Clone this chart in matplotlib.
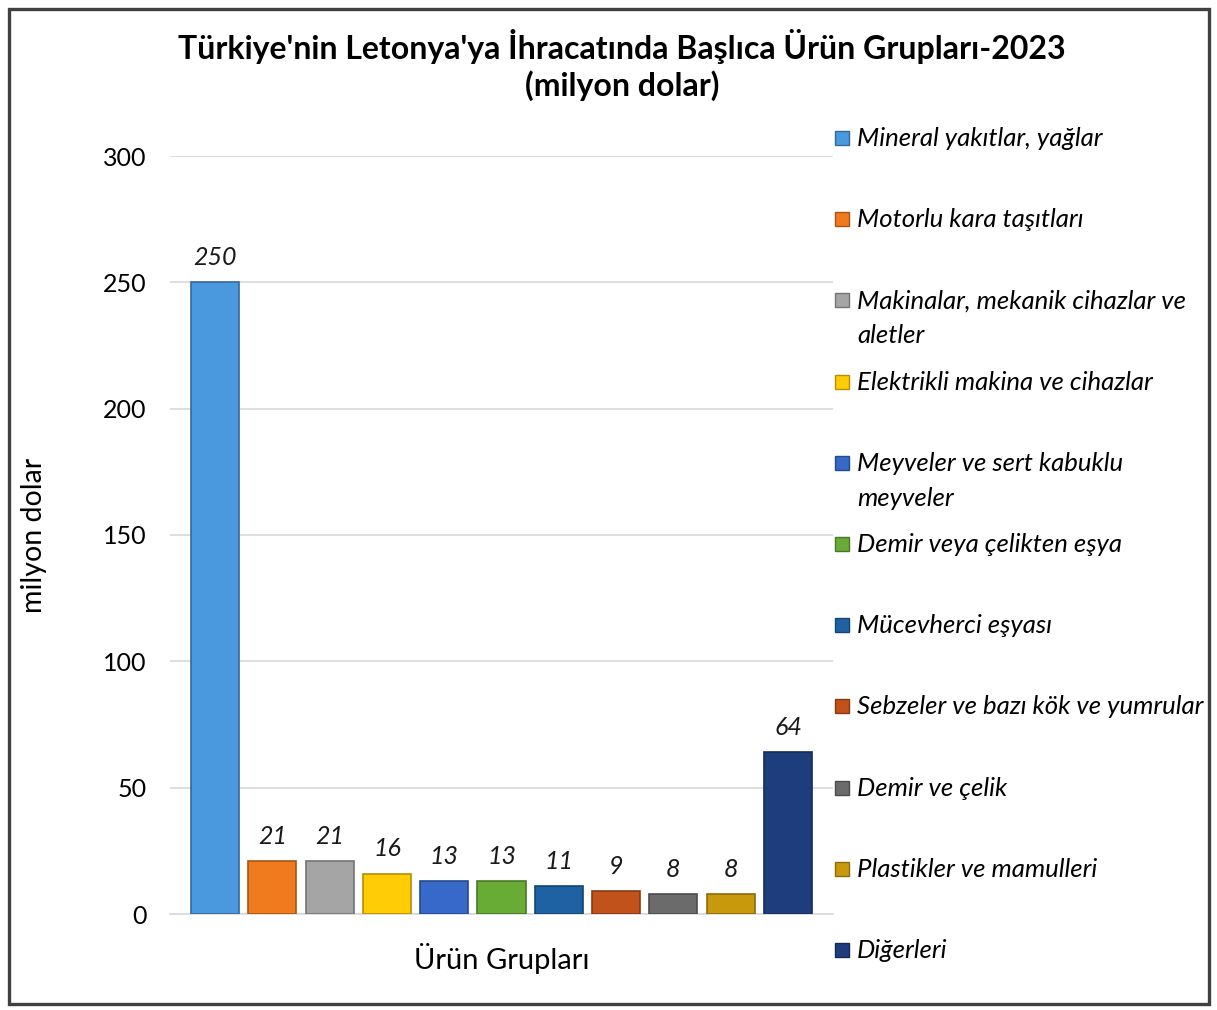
import matplotlib.pyplot as plt
from matplotlib.patches import Rectangle
import matplotlib.colors as mcolors

plt.rcParams['font.family'] = ['Lato', 'DejaVu Sans']

# Data
groups = ['Mineral yakıtlar, yağlar',
          'Motorlu kara taşıtları',
          'Makinalar, mekanik cihazlar ve\naletler',
          'Elektrikli makina ve cihazlar',
          'Meyveler ve sert kabuklu\nmeyveler',
          'Demir veya çelikten eşya',
          'Mücevherci eşyası',
          'Sebzeler ve bazı kök ve yumrular',
          'Demir ve çelik',
          'Plastikler ve mamulleri',
          'Diğerleri']
values = [250, 21, 21, 16, 13, 13, 11, 9, 8, 8, 64]
colors = ['#4A98DE', '#F07A1E', '#A5A5A5', '#FFCC05', '#3669C9', '#68AC36',
          '#1F62A3', '#C2521B', '#6B6B6B', '#C9990D', '#1E3D7C']
yticks = [0, 50, 100, 150, 200, 250, 300]

W, H = 1217, 1010
fig = plt.figure(figsize=(W / 100, H / 100), dpi=100)

# outer frame
fig.patches.append(Rectangle((9 / W, 6 / H), 1200 / W, 995 / H, transform=fig.transFigure,
                             fill=False, edgecolor='#404040', linewidth=2.4))

ax = fig.add_axes([170 / W, 96 / H, 663 / W, 758 / H])
x = list(range(len(values)))
edges = [tuple(c * 0.7 for c in mcolors.to_rgb(col)) for col in colors]
bars = ax.bar(x, values, width=0.84, color=colors, edgecolor=edges, linewidth=1.2, zorder=3)

for xi, v in zip(x, values):
    ax.annotate(str(v), (xi, v), xytext=(0, 9.5), textcoords='offset points',
                ha='center', va='bottom', fontsize=18, fontstyle='italic', color='#1a1a1a')

ax.set_xlim(-0.785, 10.785)
ax.set_ylim(0, 300)
ax.set_yticks(yticks)
ax.set_xticks([])
ax.tick_params(axis='y', length=0, labelsize=18, pad=17)
ax.grid(axis='y', color='#D9D9D9', linewidth=1.2, zorder=0)
for s in ['top', 'right', 'left']:
    ax.spines[s].set_visible(False)
ax.spines['bottom'].set_color('#D9D9D9')
ax.spines['bottom'].set_linewidth(1.2)

ax.set_ylabel('milyon dolar', fontsize=20.5, labelpad=40)
ax.set_xlabel('Ürün Grupları', fontsize=21, labelpad=21)

fig.text(622 / W, 1 - 47 / H, "Türkiye'nin Letonya'ya İhracatında Başlıca Ürün Grupları-2023",
         ha='center', va='center', fontsize=23, fontweight='bold')
fig.text(622 / W, 1 - 86 / H, '(milyon dolar)', ha='center', va='center',
         fontsize=23, fontweight='bold')

# legend
for i, (lab, col, ec) in enumerate(zip(groups, colors, edges)):
    yc = 138 + i * 81.2
    fig.patches.append(Rectangle((835 / W, 1 - (yc + 7) / H), 14 / W, 14 / H,
                                 transform=fig.transFigure, facecolor=col,
                                 edgecolor=ec, linewidth=1))
    fig.text(857 / W, 1 - (yc - 11) / H, lab, ha='left', va='top', fontsize=18.5,
             fontstyle='italic', linespacing=1.62)

fig.savefig('out.png', dpi=100)
